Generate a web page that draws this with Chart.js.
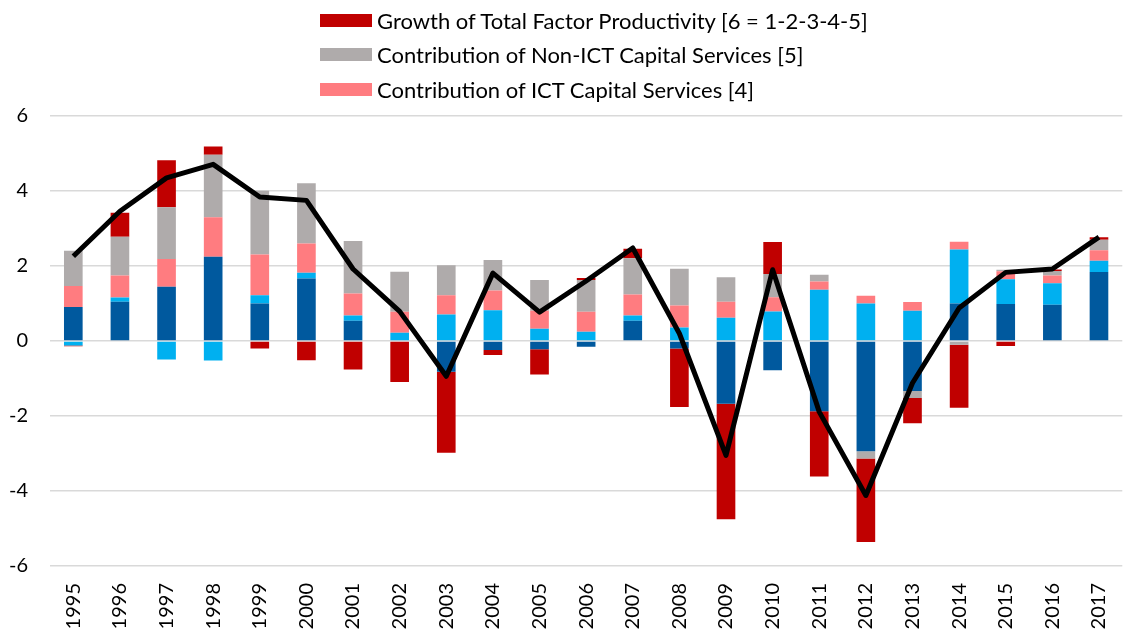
<!DOCTYPE html>
<html>
<head>
<meta charset="utf-8">
<script src="https://cdn.jsdelivr.net/npm/chart.js@4.4.1/dist/chart.umd.min.js"></script>
<style>
  html, body { margin: 0; padding: 0; background: #fff; overflow: hidden; }
  #wrap { position: relative; width: 1140px; height: 630px; }
  #legend { position: absolute; left: 320px; top: 3px; font-family: Lato, "Open Sans", sans-serif; font-size: 22px; color: #000; }
  #legend .row { display: flex; align-items: center; height: 34.5px; white-space: nowrap; }
  #legend .box { width: 52px; height: 13px; margin-right: 5px; flex: none; }
</style>
</head>
<body>
<div id="wrap">
  <canvas id="chart"></canvas>
  <div id="legend"></div>
</div>
<script>
const years = ['1995','1996','1997','1998','1999','2000','2001','2002','2003','2004','2005','2006',
  '2007','2008','2009','2010','2011','2012','2013','2014','2015','2016','2017'];

// [2] hours worked (dark blue)
const hoursWorked = [0.91,1.05,1.45,2.25,1.00,1.67,0.54,0,-0.82,-0.24,-0.22,-0.15,0.54,-0.20,-1.67,-0.78,-1.87,-2.94,-1.33,1.00,0.99,0.97,1.84];
// [3] labour composition (light blue)
const labourComp = [-0.12,0.11,-0.49,-0.52,0.22,0.15,0.14,0.22,0.71,0.82,0.33,0.25,0.14,0.36,0.62,0.79,1.37,1.00,0.81,1.44,0.66,0.57,0.30];
// [4] ICT capital services
const ictCapital = [0.56,0.59,0.74,1.05,1.09,0.78,0.59,0.56,0.51,0.53,0.48,0.53,0.56,0.59,0.43,0.38,0.22,0.21,0.23,0.21,0.21,0.21,0.28];
// [5] non-ICT capital services
const nonIctCapital = [0.94,1.03,1.38,1.67,1.70,1.61,1.40,1.07,0.80,0.81,0.82,0.85,0.97,0.98,0.65,0.62,0.18,-0.19,-0.19,-0.10,0.04,0.12,0.28];
// [6] total factor productivity
const tfpGrowth = [-0.02,0.64,1.25,0.22,-0.20,-0.51,-0.76,-1.09,-2.16,-0.13,-0.67,0.05,0.25,-1.56,-3.08,0.85,-1.74,-2.23,-0.67,-1.68,-0.13,0.04,0.07];
// [1] output growth (line)
const outputGrowth = [2.26,3.46,4.35,4.71,3.84,3.75,1.92,0.79,-0.94,1.81,0.77,1.60,2.48,0.20,-3.05,1.90,-1.89,-4.12,-1.12,0.88,1.83,1.92,2.77];

const yTicks = [-6,-4,-2,0,2,4,6];

const fontFamily = 'Lato, "Open Sans", sans-serif';

function bar(label, data, color) {
  return {
    type: 'bar', label: label, data: data, backgroundColor: color,
    stack: 'parts', barPercentage: 0.4, categoryPercentage: 1, order: 2
  };
}

const datasets = [
  bar('Contribution of Hours Worked [2]', hoursWorked, '#00599E'),
  bar('Contribution of Labour Composition [3]', labourComp, '#00B0F0'),
  bar('Contribution of ICT Capital Services [4]', ictCapital, '#FF7C80'),
  bar('Contribution of Non-ICT Capital Services [5]', nonIctCapital, '#AFABAB'),
  bar('Growth of Total Factor Productivity [6 = 1-2-3-4-5]', tfpGrowth, '#C00000'),
  {
    type: 'line', label: 'Output Growth [1]', data: outputGrowth, stack: 'line',
    borderColor: '#000', borderWidth: 5, pointRadius: 0, tension: 0, fill: false, order: 1,
    borderJoinStyle: 'round'
  }
];

new Chart(document.getElementById('chart'), {
  data: { labels: years, datasets: datasets },
  options: {
    responsive: true,
    maintainAspectRatio: false,
    animation: false,
    layout: { padding: { top: 116, right: 1, left: 0, bottom: 0 } },
    plugins: { legend: { display: false }, tooltip: { enabled: false } },
    scales: {
      x: {
        stacked: true,
        grid: { display: false, drawTicks: false },
        border: { display: false },
        ticks: { minRotation: 90, maxRotation: 90, padding: 17, color: '#000', font: { family: fontFamily, size: 20 } },
        afterFit: (s) => { s.height = 64; }
      },
      y: {
        stacked: true,
        min: -6, max: 6,
        afterBuildTicks: (s) => { s.ticks = yTicks.map(v => ({ value: v })); },
        grid: { color: '#D9D9D9', lineWidth: 1.5, drawTicks: false },
        border: { display: false },
        ticks: { padding: 22, color: '#000', font: { family: fontFamily, size: 20 } },
        afterFit: (s) => { s.width = 50; }
      }
    }
  }
});

// legend: only the top three entries are visible in the reference
const legendEl = document.getElementById('legend');
[4, 3, 2].forEach(i => {
  const row = document.createElement('div');
  row.className = 'row';
  row.innerHTML = '<span class="box" style="background:' + datasets[i].backgroundColor + '"></span>' + datasets[i].label;
  legendEl.appendChild(row);
});
</script>
</body>
</html>
